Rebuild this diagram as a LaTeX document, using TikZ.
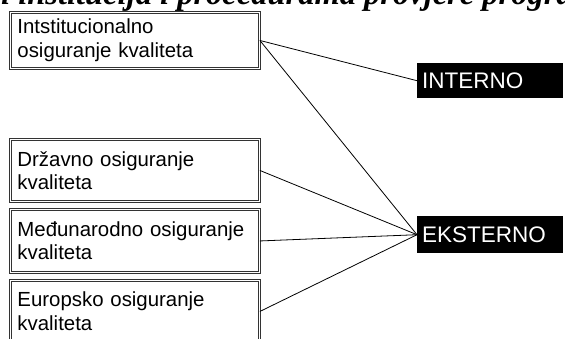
\documentclass[tikz,border=0pt]{standalone}
\usepackage{fontspec}
\setmainfont{Liberation Sans}
\newfontfamily\titlefont{Liberation Serif}
\begin{document}
\begin{tikzpicture}[x=1pt,y=-1pt,
  qbox/.style={draw=black!80, double=white, double distance=1.6pt, line width=0.9pt,
    anchor=north west, minimum width=249pt, text width=235pt, align=left,
    inner xsep=7pt, inner ysep=0pt, font=\fontsize{20.4}{23.5}\selectfont},
  tag/.style={fill=black, text=white, anchor=north west, minimum width=146pt,
    text width=136pt, align=left, inner xsep=5pt, inner ysep=0pt,
    font=\fontsize{22.5}{24}\selectfont},
  link/.style={draw=black, line width=0.8pt}]
\clip (0,0) rectangle (565,338);
\fill[white] (0,0) rectangle (565,338);
\node[anchor=base west, inner sep=0pt, font=\titlefont\bfseries\itshape\fontsize{32.5}{34}\selectfont] (title) at (1,4) {i institucija i procedurama provjere programa};
\node[qbox, minimum height=56pt] (b1) at (10,12) {Intstitucionalno\\osiguranje kvaliteta};
\node[qbox, minimum height=62pt] (b2) at (10,139) {Državno osiguranje\\kvaliteta};
\node[qbox, minimum height=63pt] (b3) at (10,209) {Međunarodno osiguranje\\kvaliteta};
\node[qbox, minimum height=62pt] (b4) at (10,280) {Europsko osiguranje\\kvaliteta};
\node[tag, minimum height=35pt] (in) at (417,63) {INTERNO};
\node[tag, minimum height=37pt] (ek) at (417,216) {EKSTERNO};
\draw[link] (b1.east) -- (in.west);
\draw[link] (b1.east) -- (ek.west);
\draw[link] (b2.east) -- (ek.west);
\draw[link] (b3.east) -- (ek.west);
\draw[link] (b4.east) -- (ek.west);
\end{tikzpicture}
\end{document}
